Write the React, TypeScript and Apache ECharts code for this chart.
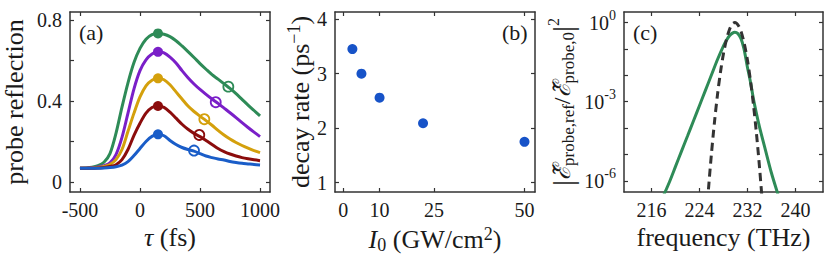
import React, { useEffect, useRef } from "react";
import * as echarts from "echarts";

// ---------- Panel (a) ----------
const tauFs = [-500, -450, -400, -350, -300, -250, -200, -150, -100, -50, 0, 50, 100, 150, 200, 250, 300, 350, 400, 450, 500, 550, 600, 650, 700, 750, 800, 850, 900, 950, 1000];
const greenA = [0.068, 0.069, 0.072, 0.08, 0.097, 0.14, 0.24, 0.37, 0.49, 0.59, 0.66, 0.705, 0.728, 0.734, 0.73, 0.718, 0.698, 0.672, 0.644, 0.615, 0.585, 0.557, 0.53, 0.508, 0.485, 0.462, 0.436, 0.408, 0.38, 0.353, 0.326];
const purpleA = [0.068, 0.068, 0.07, 0.074, 0.08, 0.094, 0.135, 0.22, 0.34, 0.46, 0.55, 0.603, 0.632, 0.643, 0.638, 0.617, 0.588, 0.55, 0.515, 0.484, 0.457, 0.433, 0.41, 0.388, 0.365, 0.342, 0.318, 0.293, 0.269, 0.246, 0.224];
const yellowA = [0.068, 0.068, 0.069, 0.071, 0.076, 0.086, 0.11, 0.16, 0.25, 0.34, 0.42, 0.475, 0.503, 0.512, 0.505, 0.48, 0.445, 0.41, 0.375, 0.348, 0.325, 0.303, 0.28, 0.255, 0.232, 0.212, 0.195, 0.18, 0.167, 0.155, 0.145];
const redA = [0.068, 0.068, 0.068, 0.069, 0.071, 0.076, 0.085, 0.11, 0.16, 0.23, 0.29, 0.34, 0.368, 0.375, 0.368, 0.345, 0.315, 0.285, 0.26, 0.24, 0.224, 0.205, 0.185, 0.165, 0.15, 0.138, 0.128, 0.12, 0.114, 0.109, 0.105];
const blueA = [0.068, 0.068, 0.068, 0.068, 0.069, 0.071, 0.075, 0.083, 0.1, 0.13, 0.165, 0.2, 0.225, 0.235, 0.228, 0.205, 0.185, 0.17, 0.16, 0.152, 0.14, 0.128, 0.12, 0.113, 0.108, 0.101, 0.096, 0.092, 0.089, 0.086, 0.084];
const peakTau = 150;
const peakVals = [0.734, 0.643, 0.512, 0.375, 0.235];
const openTau = [736, 631, 536, 494, 450];
const openVals = [0.471, 0.394, 0.31, 0.232, 0.155];
const aTicksX = [-500, 0, 500, 1000];
const aTicksY = [0, 0.2, 0.4, 0.6, 0.8];
const aLabelsY = [0, 0.4, 0.8];

// ---------- Panel (b) ----------
const intensity = [2.5, 5, 10, 22, 50];
const decayRate = [3.45, 3.0, 2.56, 2.09, 1.75];
const bTicksX = [0, 10, 25, 50];
const bTicksY = [1, 2, 3, 4];

// ---------- Panel (c) ----------
const freqRef = [218.0, 219, 220, 221, 222, 223, 224, 225, 226, 227, 228, 228.5, 229, 229.5, 229.9, 230.4, 230.9, 231.4, 232, 232.5, 233, 233.5, 234, 235, 236, 237, 237.3];
const logRef = [-6.55, -6.03, -5.45, -4.87, -4.3, -3.72, -3.14, -2.56, -1.98, -1.4, -0.88, -0.67, -0.5, -0.4, -0.37, -0.42, -0.6, -0.98, -1.7, -2.25, -2.9, -3.45, -3.95, -4.83, -5.7, -6.45, -6.7];
const freqIn = [225.0, 225.5, 226, 226.5, 227, 227.5, 228, 228.5, 229, 229.5, 229.9, 230.5, 231, 231.5, 232, 232.5, 233, 233.5, 234, 234.5, 235];
const logIn = [-7.8, -6.29, -4.94, -3.76, -2.73, -1.87, -1.17, -0.64, -0.26, -0.05, 0, -0.12, -0.39, -0.83, -1.43, -2.2, -3.12, -4.21, -5.46, -6.88, -8.45];
const cTicksX = [216, 224, 232, 240];
const cTicksY = [-6, -5, -4, -3, -2, -1, 0];
const cLabelsY = [-6, -3, 0];

const colors = ["#2e8b57", "#7a1fc8", "#d4a00c", "#8b0c0c", "#1a5dc8"];
const curves = [greenA, purpleA, yellowA, redA, blueA];

const FONT = "'Liberation Serif', 'Times New Roman', 'DejaVu Serif', serif";
const AXC = "#333333";
const TXT = "#1a1a1a";

function mainAxis(gridIndex: number, pos: string, min: number, max: number, ticks: number[], labels: number[] | null, fmt?: (v: number) => string, rich?: any) {
  return {
    type: "value",
    gridIndex,
    position: pos,
    min,
    max,
    axisLine: { show: true, onZero: false, lineStyle: { color: AXC, width: 1.5 } },
    axisTick: { show: true, inside: true, length: 4, customValues: ticks, lineStyle: { color: AXC, width: 1.2 } },
    axisLabel: labels
      ? { show: true, customValues: labels, margin: 8, fontFamily: FONT, fontSize: 20, color: TXT, formatter: fmt || ((v: number) => String(v)), rich }
      : { show: false },
    splitLine: { show: false },
  };
}

const nameStyle = (extra: any = {}) => ({
  fontFamily: FONT,
  fontSize: 26,
  color: TXT,
  ...extra,
});

export default function App() {
  const ref = useRef<HTMLDivElement>(null);
  useEffect(() => {
    document.body.style.margin = "0";
    if (!ref.current) return;
    const chart = echarts.init(ref.current, undefined, { renderer: "svg" });

    const xa0: any = mainAxis(0, "bottom", -583, 1083, aTicksX, aTicksX);
    xa0.name = "{i|τ} (fs)";
    xa0.nameLocation = "middle";
    xa0.nameGap = 32;
    xa0.nameTextStyle = nameStyle({ rich: { i: { fontFamily: FONT, fontSize: 26, fontStyle: "italic", color: TXT } } });

    const ya0: any = mainAxis(0, "left", -0.05, 0.84, aTicksY, aLabelsY, (v: number) => (v === 0 ? "0" : v.toFixed(1)));
    ya0.name = "probe reflection";
    ya0.nameLocation = "middle";
    ya0.nameRotate = 90;
    ya0.nameGap = 43;
    ya0.nameTextStyle = nameStyle();

    const xb0: any = mainAxis(1, "bottom", -2.3, 52.9, bTicksX, bTicksX);
    xb0.name = "{i|I}{sub|0} (GW/cm{sup|2})";
    xb0.nameLocation = "middle";
    xb0.nameGap = 28;
    xb0.nameTextStyle = nameStyle({
      rich: {
        i: { fontFamily: FONT, fontSize: 26, fontStyle: "italic", color: TXT },
        sub: { fontFamily: FONT, fontSize: 18, color: TXT, padding: [10, 0, 0, 0] },
        sup: { fontFamily: FONT, fontSize: 18, color: TXT, padding: [0, 0, 12, 0] },
      },
    });

    const yb0: any = mainAxis(1, "left", 0.83, 4.13, bTicksY, bTicksY);
    yb0.name = "decay rate (ps{sup|−1})";
    yb0.nameLocation = "middle";
    yb0.nameRotate = 90;
    yb0.nameGap = 20;
    yb0.nameTextStyle = nameStyle({
      rich: { sup: { fontFamily: FONT, fontSize: 18, color: TXT, padding: [0, 0, 12, 0] } },
    });

    const xc0: any = mainAxis(2, "bottom", 211.4, 244.6, cTicksX, cTicksX);
    xc0.name = "frequency (THz)";
    xc0.nameLocation = "middle";
    xc0.nameGap = 32;
    xc0.nameTextStyle = nameStyle();

    const yc0: any = mainAxis(2, "left", -6.42, 0.4, cTicksY, cLabelsY, (v: number) => "10{sup|" + v + "}", {
      sup: { fontFamily: FONT, fontSize: 14, color: TXT, padding: [0, 0, 14, 0] },
    });
    yc0.name = "{bar||}{e|ℰ̃}{sub|probe,ref}/{e|ℰ̃}{sub|probe,0}{bar||}{sup|2}";
    yc0.nameLocation = "middle";
    yc0.nameRotate = 90;
    yc0.nameGap = 45;
    yc0.nameTextStyle = nameStyle({
      fontSize: 24,
      rich: {
        bar: { fontFamily: FONT, fontSize: 30, color: TXT },
        e: { fontFamily: FONT, fontSize: 24, fontStyle: "italic", color: TXT },
        sub: { fontFamily: FONT, fontSize: 17, color: TXT, padding: [12, 0, 0, 0] },
        sup: { fontFamily: FONT, fontSize: 16, color: TXT, padding: [0, 0, 18, 0] },
      },
    });

    const series: any[] = [];
    curves.forEach((vals, k) => {
      series.push({
        type: "line",
        xAxisIndex: 0,
        yAxisIndex: 0,
        data: vals.map((v, i) => [tauFs[i], v]),
        smooth: 0.3,
        showSymbol: false,
        lineStyle: { color: colors[k], width: 3 },
        z: 3 + k,
      });
      series.push({
        type: "scatter",
        xAxisIndex: 0,
        yAxisIndex: 0,
        data: [[peakTau, peakVals[k]]],
        symbolSize: 10,
        itemStyle: { color: colors[k], opacity: 1 },
        z: 10,
      });
      series.push({
        type: "scatter",
        xAxisIndex: 0,
        yAxisIndex: 0,
        data: [[openTau[k], openVals[k]]],
        symbolSize: 10,
        itemStyle: { color: "rgba(255,255,255,0)", borderColor: colors[k], borderWidth: 1.8, opacity: 1 },
        z: 10,
      });
    });
    series.push({
      type: "scatter",
      xAxisIndex: 2,
      yAxisIndex: 2,
      data: intensity.map((v, i) => [v, decayRate[i]]),
      symbolSize: 10,
      itemStyle: { color: "#1753c8", opacity: 1 },
    });
    series.push({
      type: "line",
      xAxisIndex: 4,
      yAxisIndex: 4,
      data: freqRef.map((v, i) => [v, logRef[i]]),
      smooth: 0.3,
      showSymbol: false,
      lineStyle: { color: colors[0], width: 3 },
    });
    series.push({
      type: "line",
      xAxisIndex: 4,
      yAxisIndex: 4,
      data: freqIn.map((v, i) => [v, logIn[i]]),
      smooth: 0.3,
      showSymbol: false,
      lineStyle: { color: "#333333", width: 3, type: [8, 5] },
    });

    const option: any = {
      animation: false,
      textStyle: { fontFamily: FONT },
      grid: [
        { left: 70, top: 12, width: 200, height: 180, outerBoundsMode: "none" },
        { left: 335, top: 12, width: 200, height: 180, outerBoundsMode: "none" },
        { left: 624, top: 12, width: 199, height: 180, outerBoundsMode: "none" },
      ],
      xAxis: [
        xa0,
        mainAxis(0, "top", -583, 1083, aTicksX, null),
        xb0,
        mainAxis(1, "top", -2.3, 52.9, bTicksX, null),
        xc0,
        mainAxis(2, "top", 211.4, 244.6, cTicksX, null),
      ],
      yAxis: [
        ya0,
        mainAxis(0, "right", -0.05, 0.84, aTicksY, null),
        yb0,
        mainAxis(1, "right", 0.83, 4.13, bTicksY, null),
        yc0,
        mainAxis(2, "right", -6.42, 0.4, cTicksY, null),
      ],
      series,
      graphic: [
        { type: "text", left: 79, top: 21, style: { text: "(a)", fontFamily: FONT, fontSize: 22, fill: TXT } },
        { type: "text", left: 502, top: 21, style: { text: "(b)", fontFamily: FONT, fontSize: 22, fill: TXT } },
        { type: "text", left: 633, top: 21, style: { text: "(c)", fontFamily: FONT, fontSize: 22, fill: TXT } },
      ],
    };
    chart.setOption(option);
    return () => chart.dispose();
  }, []);
  return <div ref={ref} style={{ width: 830, height: 255 }} />;
}
